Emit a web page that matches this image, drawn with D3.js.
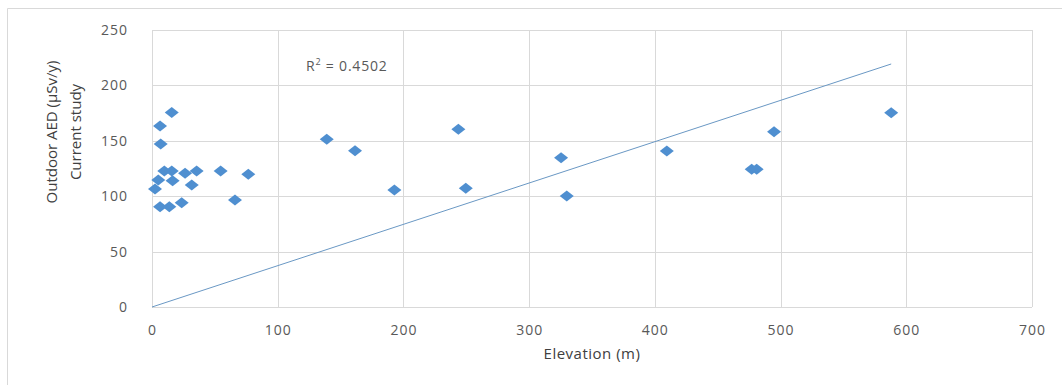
<!DOCTYPE html>
<html>
<head>
<meta charset="utf-8">
<script src="https://cdn.jsdelivr.net/npm/d3@7"></script>
<style>
    body { margin: 0; background: #fff; }
    .tick text { font-family: "Open Sans", sans-serif; font-size: 14px; fill: #595959; letter-spacing: 1px; }
</style>
</head>
<body>
<div class="chart"></div>
<script>
// elevation (m) and outdoor AED (uSv/y) for each station
let elevation = [2.4, 5, 6.4, 6.9, 6.4, 9.8, 13.8, 15.7, 15.7, 16.4, 23.6, 26.3, 31.6, 35.5, 54.6, 66, 76.6,
    139, 161.5, 192.8, 243.7, 249.6, 325.4, 329.9, 409.5, 477, 481, 494.8, 588];
let aed = [106.5, 114.6, 163.4, 147, 90.5, 122.7, 90.5, 175.5, 122.7, 114, 94, 120.7, 110, 122.7, 122.7, 96.6, 119.8,
    151.3, 141, 105.6, 160.4, 107.1, 134.7, 100.2, 140.8, 124.3, 124.3, 158.2, 175.4];

let xTicks = [0, 100, 200, 300, 400, 500, 600, 700];
let yTicks = [0, 50, 100, 150, 200, 250];

// linear trendline through origin (Excel), R^2 label
let trendSlope = 0.373;
let trendRange = [0, 588];
let rSquared = "0.4502";

let width = 1062, height = 385;
let margin = {top: 30, right: 30, bottom: 78, left: 152};

let svg = d3.select(".chart").append("svg")
    .attr("width", width)
    .attr("height", height);

// outer chart border (only top/left visible in the crop)
svg.append("path")
    .attr("d", "M7.5," + height + "V8.5H" + width)
    .attr("fill", "none")
    .attr("stroke", "#d9d9d9");

let x = d3.scaleLinear().domain([0, 700]).range([margin.left, width - margin.right]);
let y = d3.scaleLinear().domain([0, 250]).range([height - margin.bottom, margin.top]);

// gridlines
svg.append("g")
    .selectAll("line.v")
    .data(xTicks).enter()
    .append("line")
    .attr("x1", d => Math.round(x(d)) + 0.5)
    .attr("x2", d => Math.round(x(d)) + 0.5)
    .attr("y1", y(250))
    .attr("y2", y(0))
    .attr("stroke", "#d9d9d9");

svg.append("g")
    .selectAll("line.h")
    .data(yTicks).enter()
    .append("line")
    .attr("x1", x(0))
    .attr("x2", x(700))
    .attr("y1", d => Math.round(y(d)) + 0.5)
    .attr("y2", d => Math.round(y(d)) + 0.5)
    .attr("stroke", "#d9d9d9");

// axes (labels only)
let xAxis = svg.append("g")
    .attr("transform", "translate(0," + (y(0) + 15) + ")")
    .call(d3.axisBottom(x).tickValues(xTicks).tickSize(0));
xAxis.select(".domain").remove();

let yAxis = svg.append("g")
    .attr("transform", "translate(" + (x(0) - 21) + ",0)")
    .call(d3.axisLeft(y).tickValues(yTicks).tickSize(0));
yAxis.select(".domain").remove();

// axis titles
svg.append("text")
    .attr("x", 592)
    .attr("y", 359)
    .attr("text-anchor", "middle")
    .style("font-family", "Open Sans, sans-serif")
    .style("font-size", "15px")
    .style("letter-spacing", "0.5px")
    .style("fill", "#404040")
    .text("Elevation (m)");

let yTitle = svg.append("text")
    .attr("transform", "translate(57,132) rotate(-90)")
    .attr("text-anchor", "middle")
    .style("font-family", "Open Sans, sans-serif")
    .style("font-size", "15px")
    .style("fill", "#404040");
yTitle.append("tspan").attr("x", 0).attr("y", 0).text("Outdoor AED (\u00b5Sv/y)");
yTitle.append("tspan").attr("x", 0).attr("y", 24).text("Current study");

// trendline
svg.append("line")
    .attr("x1", x(trendRange[0]))
    .attr("y1", y(trendRange[0] * trendSlope))
    .attr("x2", x(trendRange[1]))
    .attr("y2", y(trendRange[1] * trendSlope))
    .attr("stroke", "#6a98c4")
    .attr("stroke-width", 1);

// R^2 label
let rText = svg.append("text")
    .attr("x", 306)
    .attr("y", 71)
    .style("font-family", "Open Sans, sans-serif")
    .style("font-size", "14px")
    .style("letter-spacing", "0.8px")
    .style("fill", "#595959");
rText.append("tspan").text("R");
rText.append("tspan").attr("dy", -6).style("font-size", "9px").text("2");
rText.append("tspan").attr("dy", 6).text(" = " + rSquared);

// diamond markers
let points = elevation.map((e, i) => ({x: e, y: aed[i]}));
svg.append("g")
    .selectAll("path")
    .data(points).enter()
    .append("path")
    .attr("transform", d => "translate(" + x(d.x) + "," + y(d.y) + ")")
    .attr("d", "M0,-5.5L7,0L0,5.5L-7,0Z")
    .attr("fill", "#4f8fd0");
</script>
</body>
</html>
